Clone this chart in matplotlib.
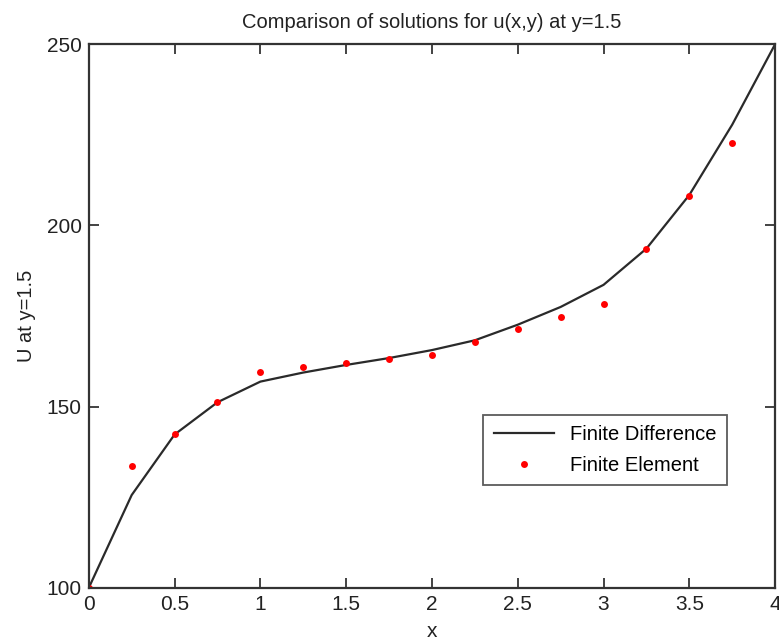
import numpy as np
import matplotlib
matplotlib.use("Agg")
import matplotlib.pyplot as plt

plt.rcParams['font.family'] = ['Liberation Sans', 'DejaVu Sans']

# finite difference solution along y=1.5
x_fd = [0, 0.25, 0.5, 0.75, 1.0, 1.25, 1.5, 1.75, 2.0, 2.25, 2.5, 2.75, 3.0, 3.25, 3.5, 3.75, 4.0]
u_fd = [100, 125.6, 142.3, 151.2, 156.9, 159.4, 161.5, 163.4, 165.6, 168.3, 172.6, 177.5, 183.6, 193.6, 208.4, 227.8, 250]

# finite element nodal values
x_fe = [0, 0.25, 0.5, 0.75, 1.0, 1.25, 1.5, 1.75, 2.0, 2.25, 2.5, 2.75, 3.0, 3.25, 3.5, 3.75]
u_fe = [100, 133.6, 142.5, 151.4, 159.6, 160.8, 162.1, 163.0, 164.3, 167.9, 171.3, 174.8, 178.4, 193.4, 208.2, 222.7]

fig = plt.figure(figsize=(7.79, 6.41), dpi=100)
ax = fig.add_axes([0.114, 0.083, 0.881, 0.848])

ax.plot(x_fd, u_fd, color='#2a2a2a', lw=1.6, label='Finite Difference')
ax.plot(x_fe, u_fe, 'o', color='red', ms=5, mec='none', label='Finite Element')

ax.set_xlim(0, 4)
ax.set_ylim(100, 250)
ax.set_xticks(np.arange(0, 4.01, 0.5))
ax.set_xticklabels(['0', '0.5', '1', '1.5', '2', '2.5', '3', '3.5', '4'])
ax.set_yticks([100, 150, 200, 250])
ax.tick_params(direction='in', top=True, right=True, length=7, width=1.2,
               labelsize=15, pad=5, colors='#222222')
for s in ax.spines.values():
    s.set_linewidth(1.6)
    s.set_color('#333333')

ax.set_title('Comparison of solutions for u(x,y) at y=1.5', fontsize=14.5, color='#222222', pad=12)
ax.set_xlabel('x', fontsize=15, color='#222222', labelpad=6)
ax.set_ylabel('U at y=1.5', fontsize=14.5, color='#222222', labelpad=8)

leg = ax.legend(loc='lower right', bbox_to_anchor=(0.944, 0.17), fontsize=14.5,
                frameon=True, fancybox=False, edgecolor='#333333', borderpad=0.5,
                handlelength=3.0, labelspacing=0.6)
leg.get_frame().set_linewidth(1.3)

fig.savefig('out.png', dpi=100)
